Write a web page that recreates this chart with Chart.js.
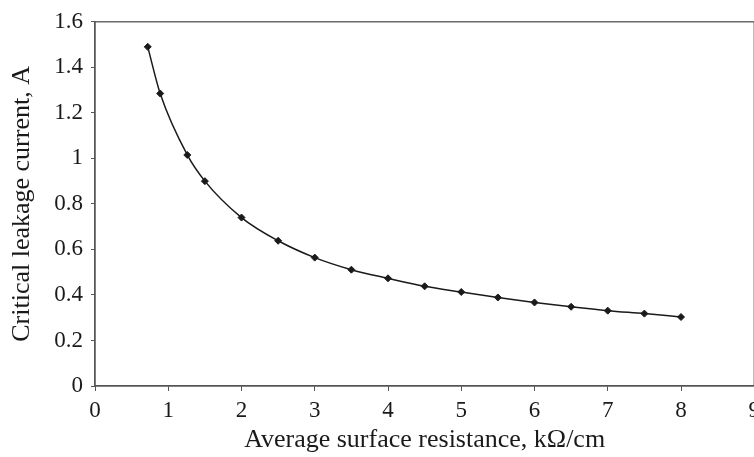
<!DOCTYPE html>
<html>
<head>
<meta charset="utf-8">
<script src="https://cdn.jsdelivr.net/npm/chart.js@4"></script>
<style>
  html, body { margin: 0; padding: 0; background: #fff; overflow: hidden; }
  #wrap { width: 754px; height: 457px; overflow: hidden; }
</style>
</head>
<body>
<div id="wrap"><canvas id="chart" width="766" height="457"></canvas></div>
<script>
// ── Data ─────────────────────────────────────────────────────────
const resistance = [0.72, 0.89, 1.26, 1.5, 2, 2.5, 3, 3.5, 4, 4.5, 5, 5.5, 6, 6.5, 7, 7.5, 8];
const leakageCurrent = [1.49, 1.285, 1.015, 0.9, 0.74, 0.638, 0.564, 0.511, 0.473, 0.438, 0.413, 0.389, 0.367, 0.348, 0.331, 0.318, 0.303];

const xTitle = 'Average surface resistance, k\u03A9/cm';
const yTitle = 'Critical leakage current, A';

const SERIF = '"Liberation Serif", "Times New Roman", serif';
const INK = '#1a1a1a';

// ── Frame around the plot area ───────────────────────────────────
const framePlugin = {
    id: 'frame',
    afterDraw(chart) {
        const { left, top, right, bottom } = chart.chartArea;
        const ctx = chart.ctx;
        ctx.save();
        ctx.strokeStyle = '#555';
        ctx.lineWidth = 1.3;
        ctx.strokeRect(left, top, right - left, bottom - top);
        ctx.restore();
    },
};

new Chart(document.getElementById('chart'), {
    type: 'scatter',
    plugins: [framePlugin],
    data: {
        datasets: [{
            data: resistance.map((x, i) => ({ x, y: leakageCurrent[i] })),
            showLine: true,
            borderColor: INK,
            borderWidth: 1.5,
            cubicInterpolationMode: 'monotone',
            pointStyle: 'rectRot',
            pointRadius: 3.5,
            pointBackgroundColor: INK,
            pointBorderColor: INK,
            pointBorderWidth: 1,
        }],
    },
    options: {
        responsive: false,
        animation: false,
        layout: { padding: { top: 19, right: 0, bottom: 0, left: 0 } },
        plugins: {
            legend: { display: false },
            tooltip: { enabled: false },
        },
        scales: {
            x: {
                type: 'linear',
                min: 0,
                max: 9,
                afterFit: (s) => { s.height = 71; },
                ticks: {
                    stepSize: 1,
                    color: INK,
                    padding: 6,
                    font: { family: SERIF, size: 23 },
                },
                grid: { drawOnChartArea: false, tickLength: 5, color: '#555' },
                border: { color: '#555', width: 1.3 },
                title: {
                    display: true,
                    text: xTitle,
                    color: INK,
                    font: { family: SERIF, size: 26 },
                    padding: { top: 0, bottom: 1 },
                },
            },
            y: {
                type: 'linear',
                min: 0,
                max: 1.6,
                afterFit: (s) => { s.width = 95; },
                ticks: {
                    stepSize: 0.2,
                    color: INK,
                    padding: 8,
                    font: { family: SERIF, size: 23 },
                    callback: (v) => String(+v.toFixed(1)),
                },
                grid: { drawOnChartArea: false, tickLength: 4, color: '#555' },
                border: { color: '#555', width: 1.3 },
                title: {
                    display: true,
                    text: yTitle,
                    color: INK,
                    font: { family: SERIF, size: 26 },
                    padding: { top: 7, bottom: 0 },
                },
            },
        },
    },
});
</script>
</body>
</html>
